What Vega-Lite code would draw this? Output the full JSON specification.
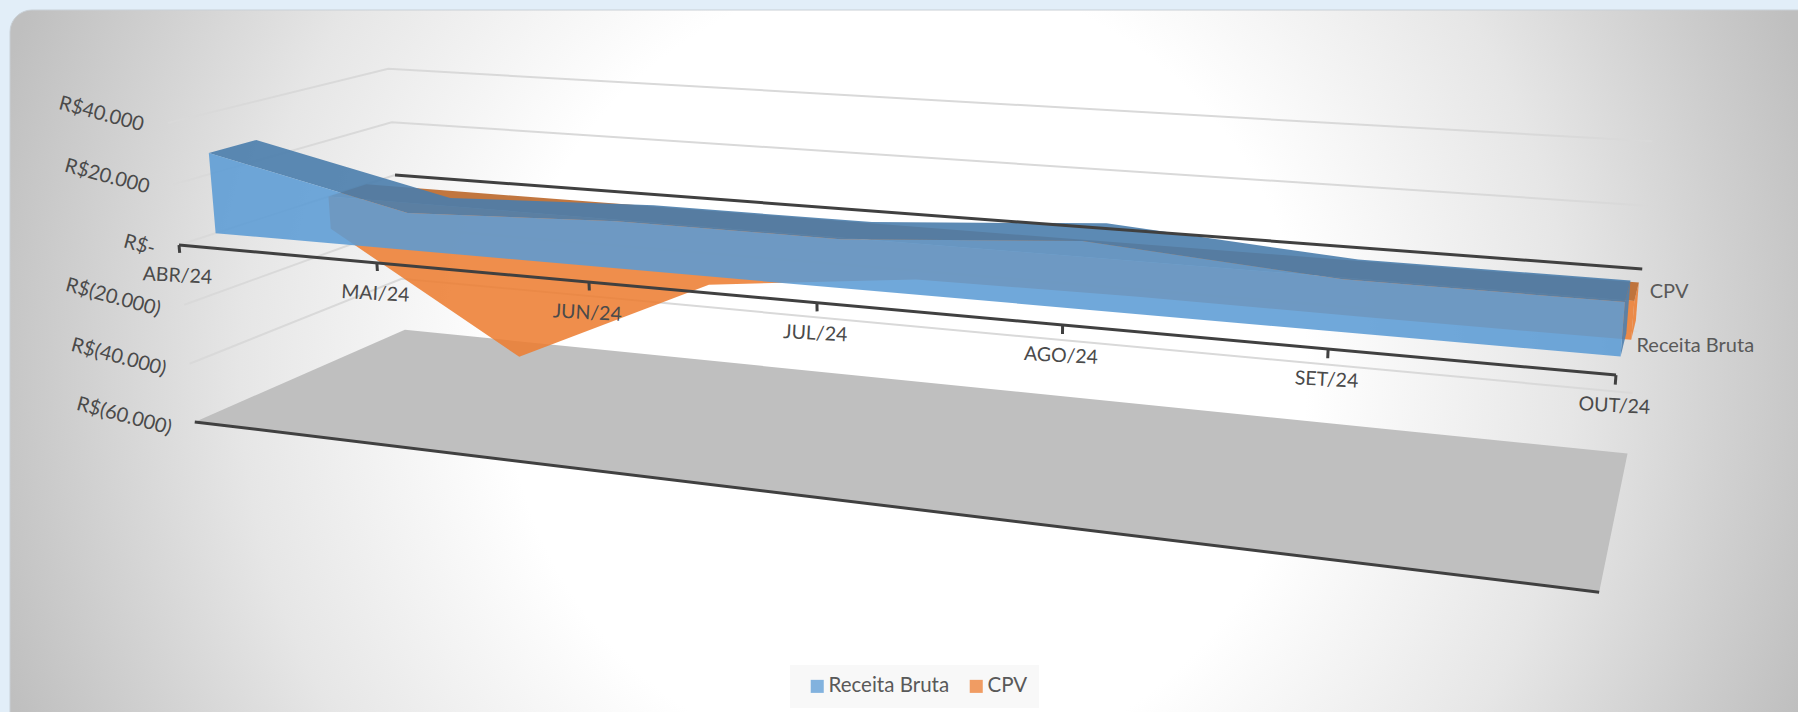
{"$schema":"https://vega.github.io/schema/vega-lite/v6.json","width":1798,"height":712,"padding":0,"autosize":{"type":"none"},"background":"#e2eef8",
"config":{"view":{"stroke":null},"text":{"font":"Lato"},"legend":{"labelFont":"Lato"}},
"data":{"values":[
{"peca":"piso","ordem":0,"idx":0,"valor":-60000,"prof":0},{"peca":"piso","ordem":1,"idx":6,"valor":-60000,"prof":0},{"peca":"piso","ordem":2,"idx":6,"valor":-60000,"prof":1},{"peca":"piso","ordem":3,"idx":0,"valor":-60000,"prof":1},
{"peca":"g40","tipo":"grade","ordem":0,"idx":0,"valor":40000,"prof":0},{"peca":"g40","tipo":"grade","ordem":1,"idx":0,"valor":40000,"prof":1},{"peca":"g40","tipo":"grade","ordem":2,"idx":6,"valor":40000,"prof":1},
{"peca":"g20","tipo":"grade","ordem":0,"idx":0,"valor":20000,"prof":0},{"peca":"g20","tipo":"grade","ordem":1,"idx":0,"valor":20000,"prof":1},{"peca":"g20","tipo":"grade","ordem":2,"idx":6,"valor":20000,"prof":1},
{"peca":"g0","tipo":"grade","ordem":0,"idx":0,"valor":0,"prof":0},{"peca":"g0","tipo":"grade","ordem":1,"idx":0,"valor":0,"prof":1},
{"peca":"gm20","tipo":"grade","ordem":0,"idx":0,"valor":-20000,"prof":0},{"peca":"gm20","tipo":"grade","ordem":1,"idx":0,"valor":-20000,"prof":1},{"peca":"gm20","tipo":"grade","ordem":2,"idx":6,"valor":-20000,"prof":1},
{"peca":"gm40","tipo":"grade","ordem":0,"idx":0,"valor":-40000,"prof":0},{"peca":"gm40","tipo":"grade","ordem":1,"idx":0,"valor":-40000,"prof":1},{"peca":"gm40","tipo":"grade","ordem":2,"idx":6,"valor":-40000,"prof":1},
{"peca":"eixoFundo","tipo":"eixo","ordem":0,"idx":0,"valor":0,"prof":1},{"peca":"eixoFundo","tipo":"eixo","ordem":1,"idx":6,"valor":0,"prof":1},
{"peca":"eixoFrente","tipo":"eixo","ordem":0,"idx":0,"valor":0,"prof":0},{"peca":"eixoFrente","tipo":"eixo","ordem":1,"idx":6,"valor":0,"prof":0},
{"peca":"pisoFrente","tipo":"eixo","ordem":0,"idx":0,"valor":-60000,"prof":0},{"peca":"pisoFrente","tipo":"eixo","ordem":1,"idx":6,"valor":-60000,"prof":0},
{"peca":"t0","tipo":"eixo","ordem":0,"idx":0,"valor":0,"prof":0},{"peca":"t0","tipo":"eixo","ordem":1,"idx":0,"valor":-2600,"prof":0},
{"peca":"t1","tipo":"eixo","ordem":0,"idx":1,"valor":0,"prof":0},{"peca":"t1","tipo":"eixo","ordem":1,"idx":1,"valor":-2600,"prof":0},
{"peca":"t2","tipo":"eixo","ordem":0,"idx":2,"valor":0,"prof":0},{"peca":"t2","tipo":"eixo","ordem":1,"idx":2,"valor":-2600,"prof":0},
{"peca":"t3","tipo":"eixo","ordem":0,"idx":3,"valor":0,"prof":0},{"peca":"t3","tipo":"eixo","ordem":1,"idx":3,"valor":-2600,"prof":0},
{"peca":"t4","tipo":"eixo","ordem":0,"idx":4,"valor":0,"prof":0},{"peca":"t4","tipo":"eixo","ordem":1,"idx":4,"valor":-2600,"prof":0},
{"peca":"t5","tipo":"eixo","ordem":0,"idx":5,"valor":0,"prof":0},{"peca":"t5","tipo":"eixo","ordem":1,"idx":5,"valor":-2600,"prof":0},
{"peca":"t6","tipo":"eixo","ordem":0,"idx":6,"valor":0,"prof":0},{"peca":"t6","tipo":"eixo","ordem":1,"idx":6,"valor":-2600,"prof":0},

{"peca":"cpvTopo","ordem":0,"idx":0,"valor":0,"prof":0.66},{"peca":"cpvTopo","ordem":1,"idx":6,"valor":0,"prof":0.66},{"peca":"cpvTopo","ordem":2,"idx":6,"valor":0,"prof":0.85},{"peca":"cpvTopo","ordem":3,"idx":0,"valor":0,"prof":0.85},
{"peca":"cpvFim","ordem":0,"idx":6,"valor":0,"prof":0.66},{"peca":"cpvFim","ordem":1,"idx":6,"valor":-11800,"prof":0.66},{"peca":"cpvFim","ordem":2,"idx":6,"valor":-11800,"prof":0.85},{"peca":"cpvFim","ordem":3,"idx":6,"valor":0,"prof":0.85},
{"peca":"cpv","serie":"CPV","ordem":0,"idx":0,"valor":-11800,"prof":0.66},{"peca":"cpv","serie":"CPV","ordem":1,"idx":1,"valor":-52400,"prof":0.66},{"peca":"cpv","serie":"CPV","ordem":2,"idx":2,"valor":-20000,"prof":0.66},{"peca":"cpv","serie":"CPV","ordem":3,"idx":3,"valor":-12000,"prof":0.66},{"peca":"cpv","serie":"CPV","ordem":4,"idx":4,"valor":-11500,"prof":0.66},{"peca":"cpv","serie":"CPV","ordem":5,"idx":5,"valor":-11800,"prof":0.66},{"peca":"cpv","serie":"CPV","ordem":6,"idx":6,"valor":-11800,"prof":0.66},{"peca":"cpv","serie":"CPV","ordem":7,"idx":6,"valor":0,"prof":0.66},{"peca":"cpv","serie":"CPV","ordem":8,"idx":0,"valor":0,"prof":0.66},

{"peca":"recTopo","ordem":0,"idx":0,"valor":27000,"prof":0.15},{"peca":"recTopo","ordem":1,"idx":1,"valor":12200,"prof":0.15},{"peca":"recTopo","ordem":2,"idx":2,"valor":15000,"prof":0.15},{"peca":"recTopo","ordem":3,"idx":3,"valor":15000,"prof":0.15},{"peca":"recTopo","ordem":4,"idx":4,"valor":20100,"prof":0.15},{"peca":"recTopo","ordem":5,"idx":5,"valor":15000,"prof":0.15},{"peca":"recTopo","ordem":6,"idx":6,"valor":15000,"prof":0.15},
{"peca":"recTopo","ordem":7,"idx":6,"valor":15000,"prof":0.352},{"peca":"recTopo","ordem":8,"idx":5,"valor":15000,"prof":0.352},{"peca":"recTopo","ordem":9,"idx":4,"valor":20100,"prof":0.352},{"peca":"recTopo","ordem":10,"idx":3,"valor":15000,"prof":0.352},{"peca":"recTopo","ordem":11,"idx":2,"valor":15000,"prof":0.352},{"peca":"recTopo","ordem":12,"idx":1,"valor":12200,"prof":0.352},{"peca":"recTopo","ordem":13,"idx":0,"valor":27000,"prof":0.352},
{"peca":"recFim","ordem":0,"idx":6,"valor":15000,"prof":0.15},{"peca":"recFim","ordem":1,"idx":6,"valor":0,"prof":0.15},{"peca":"recFim","ordem":2,"idx":6,"valor":0,"prof":0.352},{"peca":"recFim","ordem":3,"idx":6,"valor":15000,"prof":0.352},
{"peca":"rec","serie":"Receita Bruta","ordem":0,"idx":0,"valor":27000,"prof":0.15},{"peca":"rec","serie":"Receita Bruta","ordem":1,"idx":1,"valor":12200,"prof":0.15},{"peca":"rec","serie":"Receita Bruta","ordem":2,"idx":2,"valor":15000,"prof":0.15},{"peca":"rec","serie":"Receita Bruta","ordem":3,"idx":3,"valor":15000,"prof":0.15},{"peca":"rec","serie":"Receita Bruta","ordem":4,"idx":4,"valor":20100,"prof":0.15},{"peca":"rec","serie":"Receita Bruta","ordem":5,"idx":5,"valor":15000,"prof":0.15},{"peca":"rec","serie":"Receita Bruta","ordem":6,"idx":6,"valor":15000,"prof":0.15},{"peca":"rec","serie":"Receita Bruta","ordem":7,"idx":6,"valor":0,"prof":0.15},{"peca":"rec","serie":"Receita Bruta","ordem":8,"idx":0,"valor":0,"prof":0.15},

{"peca":"rotMes","rotulo":"ABR/24","idx":0,"valor":0,"prof":0},{"peca":"rotMes","rotulo":"MAI/24","idx":1,"valor":0,"prof":0},{"peca":"rotMes","rotulo":"JUN/24","idx":2,"valor":0,"prof":0},{"peca":"rotMes","rotulo":"JUL/24","idx":3,"valor":0,"prof":0},{"peca":"rotMes","rotulo":"AGO/24","idx":4,"valor":0,"prof":0},{"peca":"rotMes","rotulo":"SET/24","idx":5,"valor":0,"prof":0},{"peca":"rotMes","rotulo":"OUT/24","idx":6,"valor":0,"prof":0},
{"peca":"rotVal","rotulo":"R$40.000","idx":0,"valor":40000,"prof":-0.1},{"peca":"rotVal","rotulo":"R$20.000","idx":0,"valor":20000,"prof":-0.1},{"peca":"rotVal","rotulo":"R$-","idx":0,"valor":0,"prof":-0.1},{"peca":"rotVal","rotulo":"R$(20.000)","idx":0,"valor":-20000,"prof":-0.1},{"peca":"rotVal","rotulo":"R$(40.000)","idx":0,"valor":-40000,"prof":-0.1},{"peca":"rotVal","rotulo":"R$(60.000)","idx":0,"valor":-60000,"prof":-0.1},
{"peca":"rotSerie","rotulo":"CPV","idx":6,"valor":0,"prof":0.76},{"peca":"rotSerie","rotulo":"Receita Bruta","idx":6,"valor":0,"prof":0.25}
]},
"transform":[
{"calculate":"1-0.0336*datum.idx-0.00693*datum.valor/20000+0.1564*datum.prof","as":"w"},
{"calculate":"(179+185.2*datum.idx-6.6*datum.valor/20000+277.8*datum.prof)/datum.w","as":"sx"},
{"calculate":"(245+9.07*datum.idx-61.9*datum.valor/20000-42.6*datum.prof)/datum.w","as":"sy"}],
"encoding":{"x":{"field":"sx","type":"quantitative","scale":{"domain":[0,1798],"nice":false,"zero":false},"axis":null},"y":{"field":"sy","type":"quantitative","scale":{"domain":[712,0],"nice":false,"zero":false},"axis":null}},
"layer":[
{"transform":[{"filter":"datum.peca==='piso' && datum.ordem===0"}],"mark":{"type":"rect","cornerRadius":22,"stroke":"#c9d0d6","strokeWidth":1,"fill":{"gradient":"radial","x1":0.49,"y1":0.5,"r1":0,"x2":0.49,"y2":0.5,"r2":0.52,"stops":[{"offset":0,"color":"#ffffff"},{"offset":0.42,"color":"#ffffff"},{"offset":0.7,"color":"#e6e6e6"},{"offset":1,"color":"#bfbfbf"}]}},"encoding":{"x":{"datum":10},"x2":{"datum":1840},"y":{"datum":10},"y2":{"datum":740}}},
{"transform":[{"filter":"datum.peca==='piso'"}],"mark":{"type":"line","fill":"#bfbfbf","strokeWidth":0},"encoding":{"order":{"field":"ordem"}}},
{"transform":[{"filter":"datum.tipo==='grade'"}],"mark":{"type":"line","stroke":"#d9d9d9","strokeWidth":2},"encoding":{"detail":{"field":"peca"},"order":{"field":"ordem"}}},
{"transform":[{"filter":"datum.peca==='cpvFim'"}],"mark":{"type":"line","fill":"#ed7d31","fillOpacity":0.87,"strokeWidth":0},"encoding":{"order":{"field":"ordem"}}},
{"transform":[{"filter":"datum.peca==='cpvTopo'"}],"mark":{"type":"line","fill":"#bc6a2f","fillOpacity":0.92,"strokeWidth":0},"encoding":{"order":{"field":"ordem"}}},
{"transform":[{"filter":"datum.peca==='cpv'"}],"mark":{"type":"line","fillOpacity":0.87,"strokeWidth":0},"encoding":{"order":{"field":"ordem"},"fill":{"field":"serie","type":"nominal","scale":{"domain":["Receita Bruta","CPV"],"range":["#5b9bd5","#ed7d31"]},"legend":{"title":null,"orient":"none","legendX":790,"legendY":665,"direction":"horizontal","fillColor":"#f8f8f8","padding":11,"symbolType":"square","symbolSize":170,"symbolOpacity":0.75,"symbolStrokeWidth":0,"symbolOffset":6,"labelFontSize":20.5,"labelColor":"#595959","labelFont":"Lato","columnPadding":10,"labelOffset":1}}}},
{"transform":[{"filter":"datum.peca==='recFim'"}],"mark":{"type":"line","fill":"#4f7fae","fillOpacity":0.9,"strokeWidth":0},"encoding":{"order":{"field":"ordem"}}},
{"transform":[{"filter":"datum.peca==='recTopo'"}],"mark":{"type":"line","fill":"#4a7dac","fillOpacity":0.9,"strokeWidth":0},"encoding":{"order":{"field":"ordem"}}},
{"transform":[{"filter":"datum.peca==='rec'"}],"mark":{"type":"line","fillOpacity":0.87,"strokeWidth":0},"encoding":{"order":{"field":"ordem"},"fill":{"field":"serie","type":"nominal"}}},
{"transform":[{"filter":"datum.tipo==='eixo'"}],"mark":{"type":"line","stroke":"#404040","strokeWidth":3},"encoding":{"detail":{"field":"peca"},"order":{"field":"ordem"}}},
{"transform":[{"filter":"datum.peca==='rotMes'"}],"mark":{"type":"text","fontSize":19.5,"fill":"#4a4a4a","dy":31,"angle":3,"align":"center","baseline":"middle"},"encoding":{"text":{"field":"rotulo"}}},
{"transform":[{"filter":"datum.peca==='rotVal'"}],"mark":{"type":"text","fontSize":20,"fill":"#4a4a4a","dy":-4,"angle":15,"align":"right","baseline":"middle"},"encoding":{"text":{"field":"rotulo"}}},
{"transform":[{"filter":"datum.peca==='rotSerie'"}],"mark":{"type":"text","fontSize":20,"fill":"#595959","dx":13,"dy":1,"align":"left","baseline":"middle"},"encoding":{"text":{"field":"rotulo"}}}
]}
